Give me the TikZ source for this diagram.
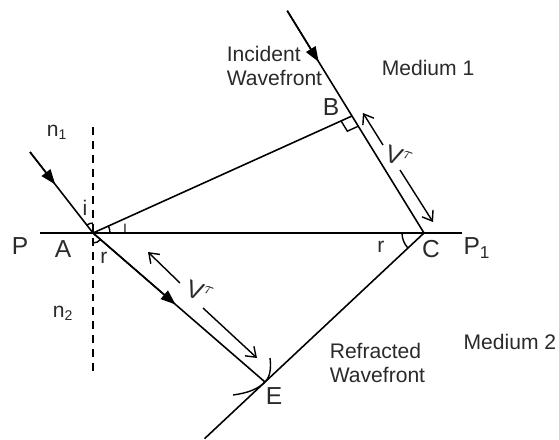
\documentclass[tikz,border=0pt]{standalone}
\usepackage{fontspec}
\setmainfont{Liberation Sans}
\usetikzlibrary{calc,arrows.meta}
\definecolor{ink}{HTML}{2A2A2A}

\begin{document}
\begin{tikzpicture}[x=0.02cm,y=-0.02cm,line width=0.9pt,
    font=\fontsize{12}{14}\selectfont,
    every node/.style={text=ink,inner sep=0pt},
    ptlabel/.style={font=\fontsize{14}{16}\selectfont},
    rayhead/.style={-{Triangle[length=3mm,width=2.2mm]}},
    lenarrow/.style={-{Straight Barb[length=1.8mm,width=2.6mm]},line width=0.8pt}]
  \useasboundingbox (0,0) rectangle (559,440);
  % points
  \coordinate (A) at (93,233);
  \coordinate (B) at (352,116);
  \coordinate (C) at (424,233);
  \coordinate (E) at (265,382);
  \coordinate (rayIn) at (30,152);
  \coordinate (frontTop) at ($(C)!1.9!(B)$);
  \coordinate (frontBot) at ($(C)!1.38!(E)$);
  \coordinate (surfL) at (40,233);
  \coordinate (surfR) at (462,233);
  \coordinate (normTop) at (93,127);
  \coordinate (normBot) at (93,371);
  % surface, normal
  \draw (surfL) -- (surfR);
  \draw[dash pattern=on 4.5pt off 3.4pt] (normTop) -- (normBot);
  % wavefronts and rays
  \draw (frontTop) -- (C) -- (frontBot);
  \draw (rayIn) -- (A) -- (E);
  \draw (A) -- (B);
  \draw[rayhead] (rayIn) -- ($(rayIn)!0.4!(A)$);
  \draw[rayhead] (A) -- ($(A)!0.48!(E)$);
  \draw[rayhead] (frontTop) -- ($(frontTop)!0.23!(C)$);
  % right angle at B
  \draw[line width=0.8pt] let \p1=($(B)!0.24cm!(C)$), \p2=($(B)!0.24cm!(A)$), \p0=(B) in
    (\p1) -- (\x1+\x2-\x0,\y1+\y2-\y0) -- (\p2);
  % angles
  \draw[line width=0.8pt] (A) ++(232:10) arc[start angle=232,end angle=270,radius=10];
  \draw[line width=0.8pt] (A) ++(41:10) arc[start angle=41,end angle=90,radius=10];
  \draw[line width=0.8pt] (A) ++(-24:17) arc[start angle=-24,end angle=0,radius=17];
  \draw[line width=0.8pt] (C) ++(137:22) arc[start angle=137,end angle=180,radius=22];
  % wavelet at E
  \coordinate (wavA) at (270,358);
  \coordinate (wavB) at (233,395);
  \draw[line width=0.8pt] (wavA) .. controls (271,366) and (271,376) .. (E)
    .. controls (258,389) and (248,393) .. (wavB);
  % distances
  \coordinate (upBC1) at (383,145);
  \coordinate (upBC2) at (363,113);
  \coordinate (dnBC1) at (400,170);
  \coordinate (dnBC2) at (433,222);
  \coordinate (upAE1) at (180,283);
  \coordinate (upAE2) at (148,252);
  \coordinate (dnAE1) at (203,308);
  \coordinate (dnAE2) at (257,358);
  \draw[lenarrow] (upBC1) -- (upBC2);
  \draw[lenarrow] (dnBC1) -- (dnBC2);
  \draw[lenarrow] (upAE1) -- (upAE2);
  \draw[lenarrow] (dnAE1) -- (dnAE2);
  \node[ptlabel,rotate=-20] (vtBC) at (399,157) {V$^{\tau}$};
  \node[ptlabel,rotate=-20] (vtAE) at (200,292) {V$^{\tau}$};
  % labels
  \node[ptlabel] (lblP) at (20,246) {P};
  \node[ptlabel] (lblA) at (63,249) {A};
  \node[ptlabel] (lblB) at (331,107) {B};
  \node[ptlabel] (lblC) at (431,249) {C};
  \node[ptlabel] (lblE) at (274,396) {E};
  \node[ptlabel] (lblP1) at (477,248) {P\textsubscript{1}};
  \node (lbln1) at (57,132) {n\textsubscript{1}};
  \node (lbln2) at (63,313) {n\textsubscript{2}};
  \node (lbli) at (85,208) {i};
  \node[font=\fontsize{9}{10}\selectfont] (lbli2) at (125,228) {\i};
  \node (lblrA) at (104,258) {r};
  \node (lblrC) at (381,247) {r};
  \node[align=left,anchor=west] (incident) at (226,66) {Incident\\Wavefront};
  \node[align=left,anchor=west] (refracted) at (329,363) {Refracted\\Wavefront};
  \node[anchor=west] (medium1) at (381,68) {Medium 1};
  \node[anchor=east] (medium2) at (557,342) {Medium 2};
\end{tikzpicture}
\end{document}
